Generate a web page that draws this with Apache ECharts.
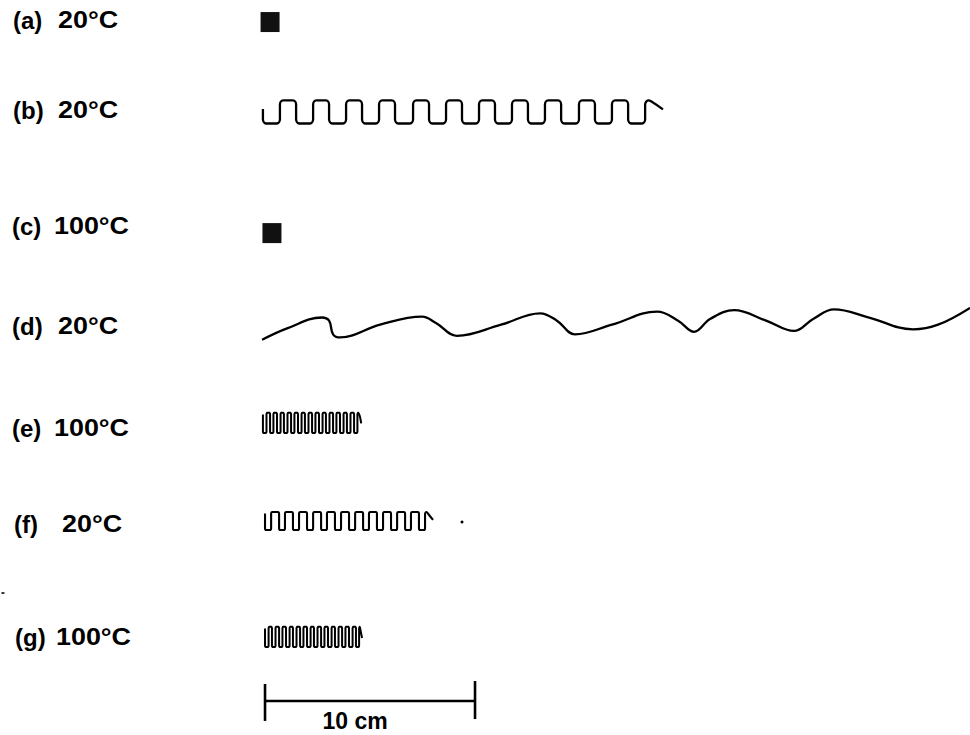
<!DOCTYPE html>
<html><head><meta charset="utf-8">
<script src="https://cdn.jsdelivr.net/npm/echarts@6/dist/echarts.min.js"></script>
<style>html,body{margin:0;padding:0;background:#fff}#c{width:970px;height:735px}</style>
</head><body><div id="c"></div>
<script>
// ---- data (all in cm; x measured from the left end of the 10 cm scale bar, y from top) ----
const rowLetters = ['(a)', '(b)', '(c)', '(d)', '(e)', '(f)', '(g)'];
const rowTemps = ['20°C', '20°C', '100°C', '20°C', '100°C', '20°C', '100°C'];
// vertical position (cm from top) of each specimen row, and of the scale bar
const rowCenters = [1.05, 5.33, 11.10, 15.38, 20.14, 24.81, 30.33];
const scaleBarY = 33.38;
const scaleBar = [0, 10];            // 10 cm scale bar
const scaleBarLabel = '10 cm';

// (a), (c): compact specimens (x position)
const squareA = [0.24, 0];
const squareC = [0.33, 0];

// (b): meander wire, x of each vertical stroke
const wireB_edges = [-0.10, 0.71, 1.48, 2.29, 3.05, 3.86, 4.62, 5.43, 6.19, 7.05, 7.81, 8.62, 9.38,
  10.19, 10.95, 11.76, 12.52, 13.33, 14.10, 14.95, 15.71, 16.52, 17.29, 18.10];
const wireB_levels = [-0.14, -0.55, 0.55];           // start, top, bottom
const wireB_tail = [[18.40, -0.50], [18.95, -0.12]];

// (d): wavy wire
const wireD = [[-0.14, 0.80], [1.05, 0.26], [2.71, -0.26], [3.05, -0.11], [3.24, 0.54], [3.57, 0.69],
  [5.48, 0.08], [7.48, -0.30], [8.14, 0.00], [9.14, 0.61], [11.24, 0.08], [13.10, -0.46],
  [13.90, -0.11], [14.76, 0.54], [16.52, 0.08], [18.67, -0.54], [19.67, -0.11], [20.43, 0.42],
  [21.19, -0.19], [22.33, -0.61], [23.86, -0.11], [25.19, 0.38], [26.10, -0.19], [27.10, -0.65],
  [28.76, -0.26], [30.86, 0.30], [32.05, 0.08], [33.57, -0.72]];

// (e): tight coil
const wireE_edges = [-0.10, 0.07, 0.24, 0.40, 0.57, 0.74, 0.90, 1.07, 1.24, 1.40, 1.57, 1.74, 1.90, 2.07,
  2.24, 2.40, 2.57, 2.74, 2.90, 3.07, 3.24, 3.40, 3.57, 3.74, 3.90, 4.07, 4.24, 4.40];
const wireE_levels = [-0.40, -0.48, 0.48];
const wireE_tail = [[4.52, -0.30], [4.58, 0.02]];

// (f): coil
const wireF_edges = [0.00, 0.29, 0.67, 0.95, 1.33, 1.62, 2.00, 2.29, 2.67, 2.95, 3.33, 3.62, 4.00,
  4.29, 4.67, 4.95, 5.33, 5.62, 6.00, 6.29, 6.67, 6.95, 7.33, 7.62];
const wireF_levels = [-0.36, -0.43, 0.43];
const wireF_tail = [[7.80, -0.30], [8.00, -0.05]];
const dotF = [9.38, 0.05];

// (g): tight coil
const wireG_edges = [0.00, 0.17, 0.33, 0.50, 0.67, 0.83, 1.00, 1.17, 1.33, 1.50, 1.67, 1.83, 2.00, 2.17,
  2.33, 2.50, 2.67, 2.83, 3.00, 3.17, 3.33, 3.50, 3.67, 3.83, 4.00, 4.17, 4.33, 4.48];
const wireG_levels = [-0.40, -0.48, 0.48];
const wireG_tail = [[4.56, -0.25], [4.62, 0.05]];

const strayMark = [-12.48, 28.24];

// ---- build polylines of the meanders from the stroke positions ----
function meander(edges, levels, tail, rowY, rx, ry) {
  const [startY, top, bottom] = levels;
  const pts = [[edges[0], startY]];
  for (let i = 0; i < edges.length; i++) {
    const e = edges[i];
    const to = i % 2 === 0 ? bottom : top;
    const from = i === 0 ? startY : (i % 2 === 0 ? top : bottom);
    const s = Math.sign(to - from);
    if (i > 0) { pts.push([e - rx, from]); pts.push([e, from + s * ry]); }
    pts.push([e, to - s * ry]);
    pts.push([e + rx, to]);
  }
  tail.forEach(p => pts.push(p));
  return pts.map(p => [p[0], p[1] + rowY]);
}
const shift = (arr, rowY) => arr.map(p => [p[0], p[1] + rowY]);

const black = '#000';
const wireSeries = (data, w, smooth) => ({
  type: 'line', data, showSymbol: false, smooth, silent: true,
  lineStyle: { color: black, width: w, opacity: 1 }, z: 3
});

const font = '"Liberation Sans", Arial, sans-serif';
const labelY = [20, 110, 226, 326, 428, 524, 637];
const letterX = [13, 13, 12, 12, 12, 14, 15];
const tempX = [58, 58, 54, 58, 54, 62, 56];
const graphics = [];
rowLetters.forEach((t, i) => {
  graphics.push({ type: 'text', x: letterX[i], y: labelY[i],
    style: { text: t, font: 'bold 24px ' + font, fill: black, verticalAlign: 'middle', align: 'left' } });
  graphics.push({ type: 'text', x: tempX[i], y: labelY[i], scaleX: 1.12,
    style: { text: rowTemps[i], font: 'bold 24px ' + font, fill: black, verticalAlign: 'middle', align: 'left' } });
});

const chart = echarts.init(document.getElementById('c'), null, { renderer: 'svg' });
chart.setOption({
  animation: false,
  backgroundColor: '#fff',
  grid: { left: 0, right: 0, top: 0, bottom: 0 },
  xAxis: { type: 'value', min: -12.62, max: 33.57, show: false },
  yAxis: { type: 'value', min: 0, max: 35, inverse: true, show: false },
  graphic: graphics,
  series: [
    { type: 'scatter', symbol: 'rect', symbolSize: [19, 20], silent: true,
      itemStyle: { color: '#111', opacity: 1 },
      data: [shift([squareA], rowCenters[0])[0], shift([squareC], rowCenters[2])[0]] },
    wireSeries(meander(wireB_edges, wireB_levels, wireB_tail, rowCenters[1], 0.15, 0.2), 2.3, 0.4),
    wireSeries(shift(wireD, rowCenters[3]), 2.3, 0.4),
    wireSeries(meander(wireE_edges, wireE_levels, wireE_tail, rowCenters[4], 0.03, 0.06), 2.0, 0.2),
    wireSeries(meander(wireF_edges, wireF_levels, wireF_tail, rowCenters[5], 0.06, 0.1), 2.1, 0.35),
    wireSeries(meander(wireG_edges, wireG_levels, wireG_tail, rowCenters[6], 0.03, 0.06), 2.0, 0.2),
    { type: 'scatter', symbol: 'circle', symbolSize: 3, silent: true, itemStyle: { color: black, opacity: 1 },
      data: [shift([dotF], rowCenters[5])[0]] },
    { type: 'scatter', symbol: 'rect', symbolSize: [3, 2], silent: true, itemStyle: { color: '#333', opacity: 1 },
      data: [strayMark] },
    // scale bar
    wireSeries(scaleBar.map(x => [x, scaleBarY]), 2.6, false),
    wireSeries([[scaleBar[0], scaleBarY - 0.81], [scaleBar[0], scaleBarY + 0.95]], 2.6, false),
    wireSeries([[scaleBar[1], scaleBarY - 0.95], [scaleBar[1], scaleBarY + 0.86]], 2.6, false),
    { type: 'scatter', symbolSize: 0, silent: true, itemStyle: { opacity: 1 },
      data: [[(scaleBar[0] + scaleBar[1]) / 2 - 0.71, scaleBarY + 0.95]],
      label: { show: true, formatter: scaleBarLabel, position: 'inside', color: black, opacity: 1,
        fontFamily: font, fontWeight: 'bold', fontSize: 23 } }
  ]
});
</script>
</body></html>
